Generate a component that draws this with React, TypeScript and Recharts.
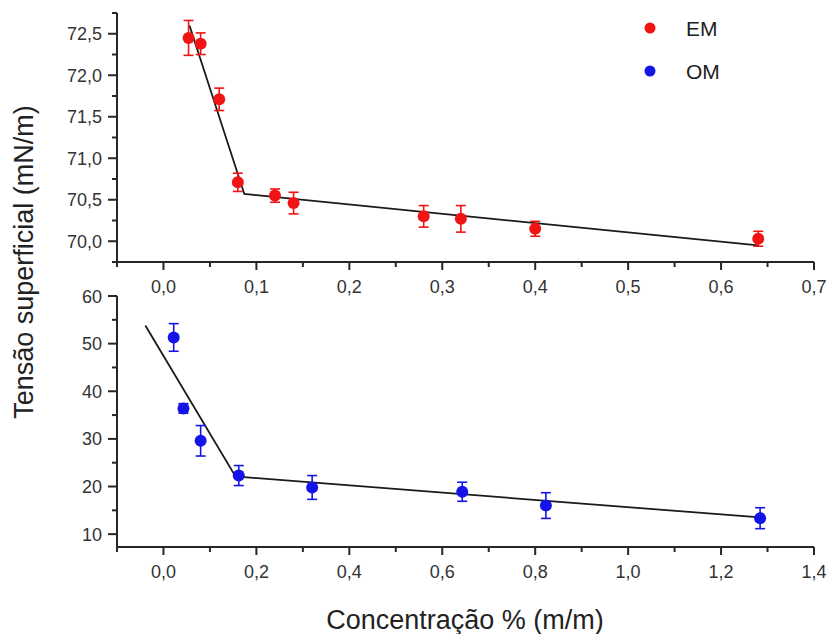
import { ComposedChart, Scatter, Line, XAxis, YAxis, ErrorBar } from "recharts";

// EM series (top panel)
const emX = [0.027, 0.04, 0.06, 0.08, 0.12, 0.14, 0.28, 0.32, 0.4, 0.64];
const emY = [72.45, 72.38, 71.71, 70.71, 70.55, 70.46, 70.3, 70.27, 70.15, 70.03];
const emErr = [0.21, 0.13, 0.135, 0.11, 0.08, 0.13, 0.13, 0.16, 0.09, 0.09];
const emFitX = [0.028, 0.087, 0.64];
const emFitY = [72.6, 70.57, 69.95];

// OM series (bottom panel)
const omX = [0.022, 0.043, 0.08, 0.162, 0.32, 0.643, 0.823, 1.284];
const omY = [51.3, 36.4, 29.6, 22.3, 19.8, 18.9, 16.0, 13.35];
const omErr = [2.9, 1.0, 3.2, 2.1, 2.5, 2.0, 2.7, 2.2];
const omFitX = [-0.039, 0.155, 1.284];
const omFitY = [53.8, 22.1, 13.5];

// ticks
const topXMajor = [0, 0.1, 0.2, 0.3, 0.4, 0.5, 0.6, 0.7];
const topXMinor = [-0.05, 0.05, 0.15, 0.25, 0.35, 0.45, 0.55, 0.65];
const topYMajor = [70, 70.5, 71, 71.5, 72, 72.5];
const topYMinor = [69.75, 70.25, 70.75, 71.25, 71.75, 72.25, 72.75];
const botXMajor = [0, 0.2, 0.4, 0.6, 0.8, 1.0, 1.2, 1.4];
const botXMinor = [-0.1, 0.1, 0.3, 0.5, 0.7, 0.9, 1.1, 1.3];
const botYMajor = [10, 20, 30, 40, 50, 60];
const botYMinor = [15, 25, 35, 45, 55];

const legendNames = ["EM", "OM"];
const RED = "#f01414";
const BLUE = "#1414e6";
const INK = "#262626";
const FONT = "'Liberation Sans', Arial, sans-serif";

const zip = (xs: number[], ys: number[], es?: number[]) =>
  xs.map((x, i) => ({ x, y: ys[i], err: es ? es[i] : 0 }));

const isMajor = (v: number, major: number[]) => major.some((m) => Math.abs(m - v) < 1e-6);
const comma = (v: number) => v.toFixed(1).replace(".", ",");

const makeXTick = (major: number[], fmt: (v: number) => string) => (props: any) => {
  const { x, y, payload } = props;
  const big = isMajor(payload.value, major);
  return (
    <g>
      <line x1={x} x2={x} y1={y} y2={y + (big ? 8 : 5)} stroke={INK} strokeWidth={2} />
      {big && (
        <text x={x} y={y + 31} textAnchor="middle" fontSize={18} fill="#333" fontFamily={FONT}>
          {fmt(payload.value)}
        </text>
      )}
    </g>
  );
};

const makeYTick = (major: number[], fmt: (v: number) => string) => (props: any) => {
  const { x, y, payload } = props;
  const big = isMajor(payload.value, major);
  return (
    <g>
      <line x1={x} x2={x - (big ? 9 : 5)} y1={y} y2={y} stroke={INK} strokeWidth={2} />
      {big && (
        <text x={x - 15} y={y + 6.5} textAnchor="end" fontSize={18} fill="#333" fontFamily={FONT}>
          {fmt(payload.value)}
        </text>
      )}
    </g>
  );
};

const dot = (color: string) => (p: any) => <circle cx={p.cx} cy={p.cy} r={6} fill={color} />;

function Panel({
  pts, fit, color, xDomain, yDomain, xTicks, yTicks, xMajor, yMajor, xFmt, yFmt, height, top, marginTop, xAxisH,
}: any) {
  return (
    <div style={{ position: "absolute", left: 0, top }}>
      <ComposedChart width={831} height={height} margin={{ top: marginTop, right: 17, left: 0, bottom: 0 }}>
        <XAxis
          type="number"
          dataKey="x"
          domain={xDomain}
          ticks={xTicks}
          interval={0}
          allowDataOverflow
          height={xAxisH}
          tickSize={0}
          tickMargin={0}
          tickLine={false}
          axisLine={{ stroke: INK, strokeWidth: 2 }}
          tick={makeXTick(xMajor, xFmt)}
        />
        <YAxis
          type="number"
          dataKey="y"
          domain={yDomain}
          ticks={yTicks}
          interval={0}
          allowDataOverflow
          width={117}
          tickSize={0}
          tickMargin={0}
          tickLine={false}
          axisLine={{ stroke: INK, strokeWidth: 2 }}
          tick={makeYTick(yMajor, yFmt)}
        />
        <Line data={fit} dataKey="y" stroke="#1a1a1a" strokeWidth={1.8} dot={false} isAnimationActive={false} />
        <Scatter data={pts} dataKey="y" shape={dot(color)} isAnimationActive={false}>
          <ErrorBar dataKey="err" direction="y" width={5} stroke={color} strokeWidth={1.6} />
        </Scatter>
      </ComposedChart>
    </div>
  );
}

export default function App() {
  return (
    <div style={{ position: "absolute", left: 0, top: 0, width: 831, height: 634, background: "#fff", overflow: "hidden" }}>
      <Panel
        top={0}
        marginTop={13}
        height={300}
        xAxisH={38}
        pts={zip(emX, emY, emErr)}
        fit={zip(emFitX, emFitY)}
        color={RED}
        xDomain={[-0.05, 0.7]}
        yDomain={[69.75, 72.75]}
        xTicks={[...topXMinor, ...topXMajor]}
        yTicks={[...topYMinor, ...topYMajor]}
        xMajor={topXMajor}
        yMajor={topYMajor}
        xFmt={comma}
        yFmt={comma}
      />
      <Panel
        top={280}
        marginTop={16}
        height={354}
        xAxisH={87}
        pts={zip(omX, omY, omErr)}
        fit={zip(omFitX, omFitY)}
        color={BLUE}
        xDomain={[-0.1, 1.4]}
        yDomain={[7.3, 60]}
        xTicks={[...botXMinor, ...botXMajor]}
        yTicks={[...botYMinor, ...botYMajor]}
        xMajor={botXMajor}
        yMajor={botYMajor}
        xFmt={comma}
        yFmt={(v: number) => String(v)}
      />
      <svg width={831} height={634} style={{ position: "absolute", left: 0, top: 0, pointerEvents: "none" }}>
        <text
          transform="translate(33,262) rotate(-90)"
          textAnchor="middle"
          fontSize={27}
          fill="#222"
          fontFamily={FONT}
        >
          Tensão superficial (mN/m)
        </text>
        <text x={465} y={629} textAnchor="middle" fontSize={27} fill="#222" fontFamily={FONT}>
          Concentração % (m/m)
        </text>
        <circle cx={650} cy={28} r={5.5} fill={RED} />
        <text x={686} y={36} fontSize={21} fill="#222" fontFamily={FONT}>
          {legendNames[0]}
        </text>
        <circle cx={650} cy={71} r={5.5} fill={BLUE} />
        <text x={686} y={79} fontSize={21} fill="#222" fontFamily={FONT}>
          {legendNames[1]}
        </text>
      </svg>
    </div>
  );
}
